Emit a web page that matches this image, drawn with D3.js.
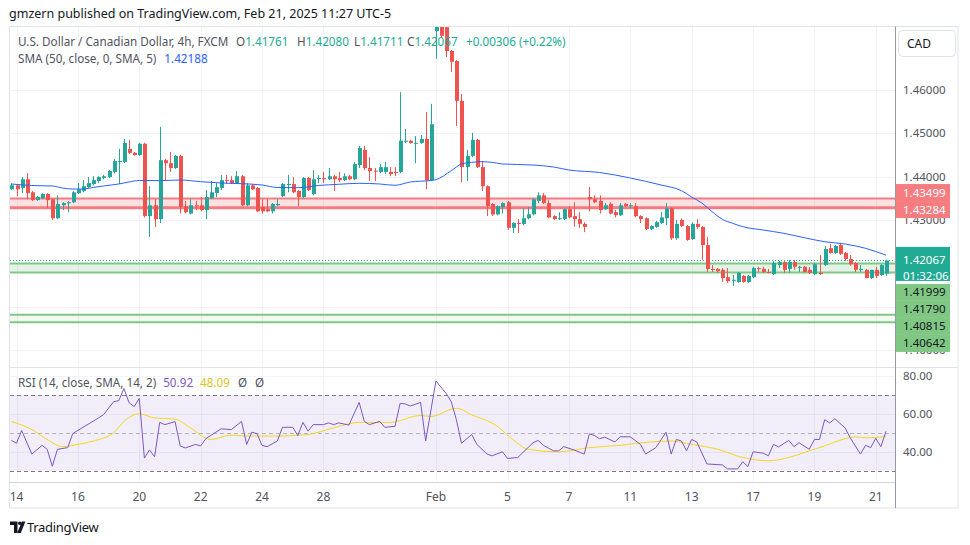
<!DOCTYPE html>
<html>
<head>
<meta charset="utf-8">
<script src="https://d3js.org/d3.v7.min.js"></script>
<style>
  body { margin: 0; background: #ffffff; }
  #chart { width: 970px; height: 545px; }
  text { font-family: "Noto Sans", "Open Sans", sans-serif; }
</style>
</head>
<body>
<div id="chart"></div>
<script>
// 4h bars, USDCAD FXCM, Jan 13 21:00 .. Feb 21 09:00 (UTC-5)
var barOpen = [
  1.4371,1.4380,1.4374,1.4394,1.4364,1.4346,1.4350,1.4360,1.4348,1.4304,
  1.4334,1.4340,1.4341,1.4362,1.4367,1.4376,1.4383,1.4390,1.4397,1.4399,
  1.4411,1.4435,1.4434,1.4464,1.4455,1.4450,1.4476,1.4309,1.4334,1.4302,
  1.4438,1.4431,1.4420,1.4448,1.4332,1.4315,1.4334,1.4334,1.4323,1.4350,
  1.4362,1.4374,1.4392,1.4392,1.4385,1.4401,1.4334,1.4380,1.4374,1.4330,
  1.4325,1.4320,1.4334,1.4355,1.4382,1.4383,1.4367,1.4353,1.4397,1.4360,
  1.4396,1.4397,1.4394,1.4401,1.4397,1.4392,1.4401,1.4394,1.4427,1.4462,
  1.4420,1.4414,1.4411,1.4411,1.4411,1.4411,1.4411,1.4481,1.4483,1.4477,
  1.4478,1.4487,1.4392,1.4736,1.4770,1.4745,1.4690,1.4667,1.4575,1.4422,
  1.4448,1.4485,1.4422,1.4378,1.4337,1.4313,1.4330,1.4341,1.4282,1.4293,
  1.4291,1.4304,1.4313,1.4344,1.4357,1.4339,1.4309,1.4303,1.4302,1.4325,
  1.4309,1.4302,1.4291,1.4353,1.4348,1.4344,1.4325,1.4337,1.4318,1.4311,
  1.4337,1.4333,1.4332,1.4309,1.4304,1.4279,1.4284,1.4293,1.4304,1.4327,
  1.4258,1.4300,1.4286,1.4256,1.4291,1.4284,1.4242,1.4187,1.4187,1.4185,
  1.4168,1.4160,1.4157,1.4171,1.4157,1.4168,1.4189,1.4187,1.4180,1.4175,
  1.4196,1.4203,1.4187,1.4203,1.4190,1.4192,1.4185,1.4175,1.4178,1.4196,
  1.4235,1.4224,1.4242,1.4224,1.4210,1.4201,1.4185,1.4185,1.4166,1.4185,
  1.4173,1.41761
];
var barHigh = [
  1.4385,1.4383,1.4399,1.4408,1.4367,1.4355,1.4362,1.4362,1.4350,1.4357,
  1.4341,1.4344,1.4367,1.4385,1.4392,1.4399,1.4401,1.4401,1.4404,1.4415,
  1.4441,1.4464,1.4487,1.4485,1.4457,1.4478,1.4478,1.4378,1.4348,1.4515,
  1.4441,1.4457,1.4450,1.4450,1.4344,1.4348,1.4344,1.4353,1.4369,1.4390,
  1.4385,1.4404,1.4404,1.4401,1.4413,1.4404,1.4385,1.4383,1.4376,1.4348,
  1.4348,1.4339,1.4348,1.4385,1.4404,1.4399,1.4369,1.4399,1.4399,1.4415,
  1.4404,1.4411,1.4420,1.4404,1.4411,1.4408,1.4404,1.4434,1.4471,1.4471,
  1.4445,1.4420,1.4429,1.4434,1.4422,1.4422,1.4595,1.4510,1.4485,1.4494,
  1.4496,1.4549,1.4568,1.4793,1.4790,1.4760,1.4692,1.4669,1.4591,1.4462,
  1.4501,1.4487,1.4436,1.4380,1.4339,1.4334,1.4341,1.4344,1.4295,1.4302,
  1.4327,1.4330,1.4350,1.4364,1.4362,1.4346,1.4311,1.4318,1.4327,1.4332,
  1.4341,1.4318,1.4295,1.4376,1.4357,1.4357,1.4339,1.4341,1.4323,1.4339,
  1.4339,1.4339,1.4339,1.4311,1.4306,1.4288,1.4298,1.4318,1.4339,1.4330,
  1.4300,1.4304,1.4288,1.4295,1.4302,1.4286,1.4261,1.4196,1.4189,1.4189,
  1.4189,1.4173,1.4180,1.4173,1.4173,1.4192,1.4192,1.4192,1.4187,1.4205,
  1.4205,1.4205,1.4208,1.4208,1.4194,1.4194,1.4192,1.4201,1.4219,1.4240,
  1.4245,1.4242,1.4247,1.4226,1.4219,1.4203,1.4196,1.4187,1.4185,1.4192,
  1.4198,1.42080
];
var barLow = [
  1.4369,1.4355,1.4362,1.4348,1.4344,1.4344,1.4348,1.4327,1.4300,1.4302,
  1.4323,1.4318,1.4339,1.4360,1.4364,1.4374,1.4380,1.4385,1.4394,1.4397,
  1.4408,1.4383,1.4431,1.4452,1.4448,1.4448,1.4306,1.4261,1.4284,1.4293,
  1.4392,1.4411,1.4418,1.4315,1.4315,1.4313,1.4323,1.4320,1.4302,1.4348,
  1.4353,1.4369,1.4383,1.4383,1.4383,1.4332,1.4332,1.4369,1.4318,1.4315,
  1.4318,1.4315,1.4332,1.4353,1.4364,1.4362,1.4332,1.4350,1.4367,1.4357,
  1.4385,1.4385,1.4392,1.4367,1.4387,1.4390,1.4392,1.4392,1.4420,1.4415,
  1.4390,1.4390,1.4408,1.4406,1.4401,1.4401,1.4408,1.4478,1.4476,1.4431,
  1.4476,1.4371,1.4390,1.4672,1.4720,1.4676,1.4642,1.4517,1.4387,1.4390,
  1.4445,1.4420,1.4367,1.4309,1.4309,1.4311,1.4315,1.4277,1.4270,1.4270,
  1.4288,1.4302,1.4311,1.4339,1.4337,1.4304,1.4300,1.4300,1.4300,1.4304,
  1.4284,1.4282,1.4272,1.4320,1.4339,1.4315,1.4323,1.4313,1.4306,1.4309,
  1.4330,1.4327,1.4306,1.4293,1.4277,1.4277,1.4282,1.4291,1.4288,1.4254,
  1.4254,1.4284,1.4252,1.4254,1.4279,1.4208,1.4180,1.4180,1.4178,1.4157,
  1.4155,1.4148,1.4155,1.4155,1.4155,1.4166,1.4180,1.4178,1.4177,1.4173,
  1.4189,1.4178,1.4178,1.4185,1.4180,1.4179,1.4175,1.4173,1.4173,1.4194,
  1.4222,1.4222,1.4219,1.4205,1.4194,1.4180,1.4180,1.4166,1.4164,1.4166,
  1.4171,1.41711
];
var barClose = [
  1.4380,1.4371,1.4394,1.4362,1.4346,1.4353,1.4360,1.4346,1.4304,1.4337,
  1.4339,1.4341,1.4364,1.4371,1.4378,1.4385,1.4392,1.4399,1.4401,1.4413,
  1.4436,1.4436,1.4478,1.4455,1.4450,1.4476,1.4309,1.4334,1.4302,1.4438,
  1.4431,1.4420,1.4448,1.4330,1.4318,1.4334,1.4332,1.4323,1.4353,1.4364,
  1.4376,1.4392,1.4390,1.4385,1.4401,1.4334,1.4380,1.4371,1.4320,1.4320,
  1.4320,1.4337,1.4337,1.4383,1.4383,1.4364,1.4353,1.4397,1.4369,1.4394,
  1.4397,1.4394,1.4401,1.4394,1.4392,1.4401,1.4394,1.4429,1.4466,1.4420,
  1.4413,1.4413,1.4422,1.4422,1.4406,1.4410,1.4483,1.4483,1.4478,1.4478,
  1.4487,1.4392,1.4521,1.4785,1.4725,1.4690,1.4665,1.4575,1.4422,1.4448,
  1.4485,1.4422,1.4378,1.4332,1.4313,1.4332,1.4339,1.4282,1.4293,1.4291,
  1.4304,1.4313,1.4348,1.4357,1.4339,1.4306,1.4302,1.4304,1.4325,1.4306,
  1.4302,1.4291,1.4284,1.4348,1.4341,1.4323,1.4334,1.4315,1.4311,1.4334,
  1.4332,1.4334,1.4309,1.4302,1.4279,1.4286,1.4295,1.4306,1.4327,1.4258,
  1.4291,1.4286,1.4254,1.4291,1.4284,1.4242,1.4187,1.4185,1.4182,1.4166,
  1.4159,1.4162,1.4178,1.4157,1.4171,1.4189,1.4187,1.4180,1.4178,1.4201,
  1.4203,1.4185,1.4203,1.4192,1.4192,1.4180,1.4178,1.4198,1.4175,1.4233,
  1.4224,1.4240,1.4222,1.4210,1.4198,1.4185,1.4187,1.4166,1.4185,1.4171,
  1.4196,1.42067
];

// SMA(50): [bar, value]
var smaPoints = [
  [0,1.43831],[4,1.43796],[8,1.43785],[10,1.43738],[12,1.43715],[14,1.43715],
  [16,1.43750],[18,1.43785],[21,1.43831],[23,1.43877],[25,1.43912],[29,1.43908],
  [33,1.43923],[37,1.43884],[41,1.43854],[45,1.43838],[49,1.43808],[52,1.43750],
  [56,1.43745],[60,1.43796],[64,1.43824],[68,1.43847],[72,1.43831],[75,1.43801],
  [78,1.43877],[82,1.43912],[83,1.43930],[86,1.44138],[88,1.44292],[90,1.44331],
  [92,1.44345],[94,1.44331],[96,1.44292],[102,1.44269],[106,1.44223],[109,1.44154],
  [115,1.44096],[121,1.43969],[127,1.43808],[131,1.43677],[133,1.43531],[135,1.43392],
  [137,1.43192],[139,1.43016],[141,1.42924],[143,1.42845],[147,1.42769],[151,1.42693],
  [155,1.42592],[159,1.42499],[163,1.42446],[167,1.42347],[171,1.42188]
];

// RSI(14) and its SMA(14): [bar, value]
var rsiPoints = [
  [0,46.1],[1,44.6],[2,51.3],[4,38.9],[6,43.5],[7,41.4],[8,32.5],[9,41.4],[11,42.3],[12,49.7],
  [14,53.0],[17,57.9],[18,59.6],[20,66.5],[21,67.0],[22,73.4],[23,66.0],[24,63.9],[25,68.2],[26,36.8],
  [27,41.1],[28,37.5],[29,55.6],[30,54.4],[32,56.0],[33,43.2],[34,42.1],[36,44.0],[37,43.2],[38,47.0],
  [41,52.2],[43,51.8],[45,56.1],[46,44.0],[47,50.4],[48,49.7],[49,43.5],[50,42.8],[52,45.8],[53,53.0],
  [55,53.0],[56,48.7],[57,55.6],[58,51.0],[59,54.4],[61,54.4],[62,55.3],[63,54.4],[64,55.3],[66,54.2],
  [68,66.1],[69,56.1],[70,54.4],[72,56.1],[73,53.0],[75,53.5],[76,65.6],[77,65.3],[78,64.2],[80,66.1],
  [81,45.8],[83,77.4],[85,70.8],[86,66.5],[87,57.0],[88,44.6],[90,49.2],[91,44.0],[93,38.9],[94,38.0],
  [96,40.1],[97,36.6],[99,37.1],[100,39.7],[102,44.9],[103,46.1],[104,43.5],[106,40.6],[107,40.6],[108,42.8],
  [110,41.1],[112,38.9],[113,49.6],[114,48.7],[115,47.0],[116,47.8],[118,45.3],[119,48.0],[121,48.0],[123,44.0],
  [124,38.9],[126,42.3],[128,50.4],[129,38.9],[130,46.6],[131,45.8],[132,40.6],[133,46.6],[134,45.3],[136,33.7],
  [139,33.2],[140,31.1],[142,31.1],[143,34.9],[144,32.3],[145,40.1],[147,39.4],[148,38.0],[149,44.0],[150,42.7],
  [152,46.1],[153,42.8],[154,44.9],[156,41.4],[157,46.6],[158,46.6],[159,57.0],[160,55.3],[161,57.5],[163,52.7],
  [164,47.5],[166,38.9],[167,43.5],[168,42.3],[169,47.2],[170,42.8],[171,50.92]
];
var rsiMaPoints = [
  [0,56.1],[4,51.8],[7,46.6],[10,42.8],[13,44.0],[16,45.8],[20,50.1],[22,56.1],[25,60.1],[28,57.9],
  [32,57.3],[35,52.7],[39,46.6],[43,48.9],[46,48.4],[52,48.4],[58,49.2],[63,52.7],[68,55.6],[74,55.6],
  [80,59.2],[82,58.7],[87,63.0],[90,59.6],[95,53.5],[98,46.6],[101,41.5],[107,40.1],[113,42.3],[119,43.5],
  [125,45.3],[129,45.8],[133,44.0],[138,41.5],[143,37.1],[148,35.4],[152,37.1],[155,39.7],[159,43.2],[163,47.0],
  [165,48.0],[167,47.5],[171,48.09]
];

var tickBars = [1, 13, 25, 37, 49, 61, 83, 97, 109, 121, 133, 145, 157, 169];
var tickLabels = ["14", "16", "20", "22", "24", "28", "Feb", "5", "7", "11", "13", "17", "19", "21"];
var priceTicks = [1.40, 1.41, 1.42, 1.43, 1.44, 1.45, 1.46];
var rsiTicks = [40, 60, 80];

var redZone = [1.43499, 1.43284];
var greenZone = [1.41999, 1.41790];
var greenZoneLow = [1.40815, 1.40642];
var lastPrice = 1.42067;
var countdown = "01:32:06";

function init(){

    var w = 970;
    var h = 545;
    var left = 10, right = 895, edge = 958;
    var priceTop = 26.5, priceBottom = 367.5;
    var rsiTop = 368, rsiBottom = 482, axisBottom = 508;
    var upColor = "#26a69a", downColor = "#ef5350";
    var textColor = "#50535e";
    var legendSize = 11.7;

    var x = d3.scaleLinear()
              .domain([0, barClose.length - 1])
              .range([11.4, 886]);

    var y = d3.scaleLinear()
              .domain([1.40, 1.46])
              .range([350, 90]);

    var yr = d3.scaleLinear()
               .domain([30, 70])
               .range([471, 395]);

    var svg = d3.select("#chart")
                .append("svg")
                .attr("width", w)
                .attr("height", h);

    var defs = svg.append("defs");
    defs.append("clipPath").attr("id", "pclip")
        .append("rect").attr("x", left).attr("y", priceTop)
        .attr("width", right - left).attr("height", priceBottom - priceTop);
    defs.append("clipPath").attr("id", "rclip")
        .append("rect").attr("x", left).attr("y", rsiTop)
        .attr("width", right - left).attr("height", rsiBottom - rsiTop);

    // header
    svg.append("text")
        .attr("x", 9).attr("y", 18)
        .attr("font-size", 12.5)
        .attr("fill", "#131722")
        .text("gmzern published on TradingView.com, Feb 21, 2025 11:27 UTC-5");

    // grid
    var grid = svg.append("g");
    grid.selectAll(".hg")
        .data(priceTicks)
        .enter()
        .append("line")
        .attr("x1", left).attr("x2", right)
        .attr("y1", function(d){ return Math.round(y(d)) + 0.5; })
        .attr("y2", function(d){ return Math.round(y(d)) + 0.5; })
        .attr("stroke", "#f0f3fa");
    grid.selectAll(".rg")
        .data(rsiTicks)
        .enter()
        .append("line")
        .attr("x1", left).attr("x2", right)
        .attr("y1", function(d){ return Math.round(yr(d)) + 0.5; })
        .attr("y2", function(d){ return Math.round(yr(d)) + 0.5; })
        .attr("stroke", "#f0f3fa");
    grid.selectAll(".vg")
        .data(tickBars)
        .enter()
        .append("line")
        .attr("x1", function(d){ return Math.round(x(d)) + 0.5; })
        .attr("x2", function(d){ return Math.round(x(d)) + 0.5; })
        .attr("y1", priceTop).attr("y2", rsiBottom)
        .attr("stroke", "#f0f3fa");

    // price pane
    var pane = svg.append("g").attr("clip-path", "url(#pclip)");

    function zone(g, lv, fill, line, wTop, wBot) {
        g.append("rect")
            .attr("x", left).attr("width", right - left)
            .attr("y", y(lv[0])).attr("height", y(lv[1]) - y(lv[0]))
            .attr("fill", fill);
        g.append("line")
            .attr("x1", left).attr("x2", right)
            .attr("y1", y(lv[0])).attr("y2", y(lv[0]))
            .attr("stroke", line).attr("stroke-width", wTop);
        g.append("line")
            .attr("x1", left).attr("x2", right)
            .attr("y1", y(lv[1])).attr("y2", y(lv[1]))
            .attr("stroke", line).attr("stroke-width", wBot);
    }
    zone(pane, redZone, "rgba(242,54,69,0.15)", "#f77c80", 2, 3);
    zone(pane, greenZone, "rgba(76,175,80,0.15)", "#81c784", 2, 2);
    zone(pane, greenZoneLow, "rgba(76,175,80,0.08)", "#81c784", 2, 2);

    pane.append("line")
        .attr("x1", left).attr("x2", right)
        .attr("y1", Math.round(y(lastPrice)) + 0.5)
        .attr("y2", Math.round(y(lastPrice)) + 0.5)
        .attr("stroke", "#22ab94")
        .attr("stroke-dasharray", "1,2");

    var bars = d3.range(barClose.length);

    pane.selectAll(".wick")
        .data(bars)
        .enter()
        .append("line")
        .attr("x1", function(i){ return Math.round(x(i)) + 0.5; })
        .attr("x2", function(i){ return Math.round(x(i)) + 0.5; })
        .attr("y1", function(i){ return y(barHigh[i]); })
        .attr("y2", function(i){ return y(barLow[i]); })
        .attr("stroke", function(i){ return barClose[i] >= barOpen[i] ? upColor : downColor; });

    pane.selectAll(".body")
        .data(bars)
        .enter()
        .append("rect")
        .attr("x", function(i){ return Math.round(x(i)) - 1; })
        .attr("width", 4)
        .attr("y", function(i){ return y(Math.max(barOpen[i], barClose[i])); })
        .attr("height", function(i){
            return Math.max(1, Math.abs(y(barOpen[i]) - y(barClose[i])));
        })
        .attr("fill", function(i){ return barClose[i] >= barOpen[i] ? upColor : downColor; });

    var smaLine = d3.line()
                    .x(function(d){ return x(d[0]); })
                    .y(function(d){ return y(d[1]); })
                    .curve(d3.curveMonotoneX);

    pane.append("path")
        .datum(smaPoints)
        .attr("d", smaLine)
        .attr("fill", "none")
        .attr("stroke", "#2962ff")
        .attr("stroke-width", 1);

    // rsi pane
    var rp = svg.append("g").attr("clip-path", "url(#rclip)");

    rp.append("rect")
        .attr("x", left).attr("width", right - left)
        .attr("y", yr(70)).attr("height", yr(30) - yr(70))
        .attr("fill", "rgba(126,87,194,0.1)");

    [70, 50, 30].forEach(function(v){
        rp.append("line")
            .attr("x1", left).attr("x2", right)
            .attr("y1", Math.round(yr(v)) + 0.5).attr("y2", Math.round(yr(v)) + 0.5)
            .attr("stroke", "#787b86")
            .attr("stroke-opacity", v == 50 ? 0.5 : 1)
            .attr("stroke-dasharray", "4,3");
    });

    var rsiLine = d3.line()
                    .x(function(d){ return x(d[0]); })
                    .y(function(d){ return yr(d[1]); });

    rp.append("path")
        .datum(rsiMaPoints)
        .attr("d", rsiLine.curve(d3.curveMonotoneX))
        .attr("fill", "none")
        .attr("stroke", "#f7d51d")
        .attr("stroke-width", 1);

    rp.append("path")
        .datum(rsiPoints)
        .attr("d", rsiLine.curve(d3.curveLinear))
        .attr("fill", "none")
        .attr("stroke", "#7e57c2")
        .attr("stroke-width", 1);

    // frame
    var frame = svg.append("g").attr("fill", "none");
    frame.append("rect")
        .attr("x", 9.5).attr("y", priceTop)
        .attr("width", edge - 9.5).attr("height", axisBottom - priceTop)
        .attr("stroke", "#e0e3eb");
    frame.append("line")
        .attr("x1", 9.5).attr("x2", edge)
        .attr("y1", rsiTop - 0.5).attr("y2", rsiTop - 0.5)
        .attr("stroke", "#e0e3eb");
    frame.append("line")
        .attr("x1", 9.5).attr("x2", right)
        .attr("y1", rsiBottom + 0.5).attr("y2", rsiBottom + 0.5)
        .attr("stroke", "#d1d4dc");
    frame.append("line")
        .attr("x1", right + 0.5).attr("x2", right + 0.5)
        .attr("y1", priceTop).attr("y2", axisBottom)
        .attr("stroke", "#9598a1");

    // price labels on the axis, pushed apart like the platform does
    function spread(items, minTop) {
        var groups = [];
        items.forEach(function(it){
            groups.push({list: [it], top: Math.max(it.want, minTop), size: it.h});
            while (groups.length > 1) {
                var b = groups[groups.length - 1], a = groups[groups.length - 2];
                if (a.top + a.size <= b.top) break;
                groups.pop();
                var list = a.list.concat(b.list), off = 0, s = 0;
                list.forEach(function(k){ s += k.want - off; off += k.h; });
                groups[groups.length - 1] = {list: list, size: off,
                    top: Math.max(s / list.length, minTop)};
            }
        });
        groups.forEach(function(g){
            var t = g.top;
            g.list.forEach(function(k){ k.top = t; t += k.h; });
        });
    }

    var lab = 17;
    var redItems = redZone.map(function(p){
        return {price: p, want: y(p) - lab / 2 - 2, h: lab, fill: "#f77c80", color: "#ffffff"};
    });
    spread(redItems, priceTop);

    var lastTop = y(lastPrice) - 13.5, lastH = 34;
    var greenItems = greenZone.concat(greenZoneLow).map(function(p){
        return {price: p, want: y(p) - lab / 2, h: lab, fill: "#81c784", color: "#131722"};
    });
    spread(greenItems, lastTop + lastH + 3);

    var boxes = redItems.concat(greenItems).map(function(d){ return [d.top, d.top + d.h]; });
    boxes.push([lastTop, lastTop + lastH]);

    // price axis (tick labels that sit fully under a label box are not shown)
    var axis = svg.append("g").attr("font-size", 11.5).attr("fill", textColor);
    axis.selectAll(".pt")
        .data(priceTicks.filter(function(d){
            var c = y(d);
            return !boxes.some(function(b){ return c > b[0] + 2 && c < b[1] - 2; });
        }))
        .enter()
        .append("text")
        .attr("x", 903)
        .attr("y", function(d){ return y(d) + 4; })
        .text(function(d){ return d.toFixed(5); });

    axis.selectAll(".rt")
        .data(rsiTicks)
        .enter()
        .append("text")
        .attr("x", 903)
        .attr("y", function(d){ return yr(d) + 4; })
        .text(function(d){ return d.toFixed(2); });

    axis.selectAll(".tt")
        .data(tickBars)
        .enter()
        .append("text")
        .attr("x", function(d){ return x(d); })
        .attr("y", 501)
        .attr("text-anchor", "middle")
        .attr("font-size", 12)
        .text(function(d, i){ return tickLabels[i]; });

    // CAD button
    svg.append("rect")
        .attr("x", 898.5).attr("y", 30.5)
        .attr("width", 57).attr("height", 26).attr("rx", 4)
        .attr("fill", "#ffffff").attr("stroke", "#e0e3eb");
    svg.append("text")
        .attr("x", 907).attr("y", 48)
        .attr("font-size", 12).attr("fill", "#131722")
        .text("CAD");

    var labels = svg.append("g").attr("font-size", 11.5);
    redItems.concat(greenItems).forEach(function(d){
        labels.append("rect")
            .attr("x", right + 1).attr("y", d.top)
            .attr("width", 54).attr("height", d.h)
            .attr("fill", d.fill);
        labels.append("text")
            .attr("x", 903).attr("y", d.top + d.h / 2 + 4)
            .attr("fill", d.color)
            .text(d.price.toFixed(5));
    });
    labels.append("rect")
        .attr("x", right + 1).attr("y", lastTop)
        .attr("width", 54).attr("height", lastH)
        .attr("fill", "#22ab94");
    labels.append("text")
        .attr("x", 903).attr("y", y(lastPrice) + 4)
        .attr("fill", "#ffffff")
        .text(lastPrice.toFixed(5));
    labels.append("text")
        .attr("x", 903).attr("y", y(lastPrice) + 19.5)
        .attr("fill", "#ffffff")
        .text(countdown);

    // legends
    var leg = svg.append("g").attr("font-size", legendSize);
    var l1 = leg.append("text").attr("x", 18).attr("y", 46).attr("fill", textColor);
    l1.append("tspan").text("U.S. Dollar / Canadian Dollar, 4h, FXCM");
    var ohlc = [["O", barOpen], ["H", barHigh], ["L", barLow], ["C", barClose]];
    var ox = [236, 297, 354, 407];
    var last = barClose.length - 1;
    ohlc.forEach(function(o, k){
        var t = leg.append("text").attr("x", ox[k]).attr("y", 46).attr("fill", textColor);
        t.append("tspan").text(o[0]);
        t.append("tspan").attr("fill", "#22ab94").text(o[1][last].toFixed(5));
    });
    // change of the current bar against its open
    var chg = barClose[last] - barOpen[last];
    leg.append("text").attr("x", 466).attr("y", 46).attr("fill", "#22ab94")
        .text("+" + chg.toFixed(5) + " (+" + (chg / barOpen[last] * 100).toFixed(2) + "%)");

    var l2 = leg.append("text").attr("x", 18).attr("y", 63).attr("fill", textColor);
    l2.append("tspan").text("SMA (50, close, 0, SMA, 5)");
    l2.append("tspan").attr("dx", 8).attr("fill", "#2962ff")
        .text(smaPoints[smaPoints.length - 1][1].toFixed(5));

    var l3 = leg.append("text").attr("x", 18).attr("y", 387).attr("fill", textColor);
    l3.append("tspan").text("RSI (14, close, SMA, 14, 2)");
    l3.append("tspan").attr("dx", 7).attr("fill", "#7e57c2")
        .text(rsiPoints[rsiPoints.length - 1][1].toFixed(2));
    l3.append("tspan").attr("dx", 7).attr("fill", "#e2c416")
        .text(rsiMaPoints[rsiMaPoints.length - 1][1].toFixed(2));
    l3.append("tspan").attr("dx", 8).text("Ø");
    l3.append("tspan").attr("dx", 8).text("Ø");

    // footer logo
    var logo = svg.append("g").attr("fill", "#131722");
    logo.append("path").attr("d", "M10 521.5h7.5v11.5h-3.5v-8h-4z");
    logo.append("circle").attr("cx", 19.8).attr("cy", 523.3).attr("r", 1.8);
    logo.append("path").attr("d", "M21.8 521.5h3.6l-4.6 11.5h-3.6z");
    logo.append("text")
        .attr("x", 27).attr("y", 532)
        .attr("font-size", 13)
        .attr("letter-spacing", -0.3)
        .text("TradingView");
}

window.onload = init;
</script>
</body>
</html>
